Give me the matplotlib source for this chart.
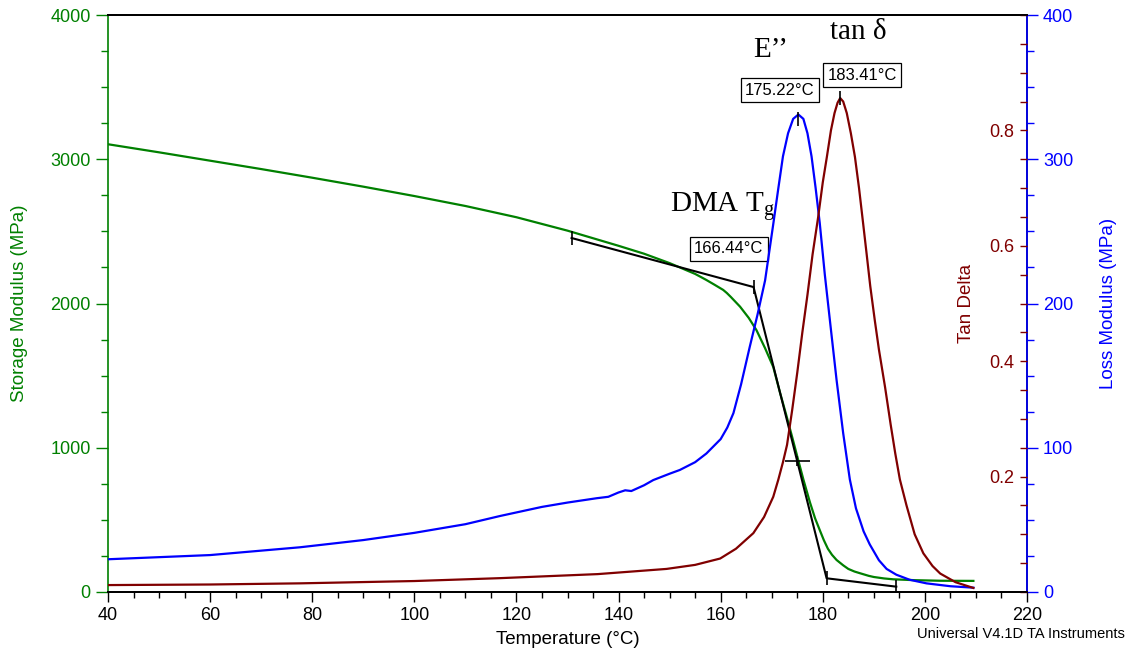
import matplotlib
matplotlib.use("Agg")
import matplotlib.pyplot as plt
from matplotlib.ticker import MultipleLocator, FixedLocator

plt.rcParams["font.family"] = ["Liberation Sans", "DejaVu Sans"]
plt.rcParams["mathtext.fontset"] = "custom"
plt.rcParams["mathtext.rm"] = "Liberation Serif"

GREEN = "#008000"
BLUE = "#0000ff"
RED = "#800000"

# storage modulus (MPa)
t_storage = [40, 50, 60, 70, 80, 90, 100, 110, 120, 130, 140, 145, 150, 155,
             156, 157.2, 158.8, 160.5, 161.2, 162, 163.8, 165.5, 167, 168.7,
             170.3, 171.6, 172.9, 174, 175, 176.2, 177.5, 178.5, 179.4, 180.2,
             181, 181.8, 182.7, 184, 185, 186.2, 187.3, 189, 190, 192, 193.8,
             198, 203, 209.5]
storage = [3104, 3048, 2990, 2932, 2872, 2810, 2745, 2676, 2598, 2505, 2400,
           2345, 2280, 2205, 2186, 2163, 2130, 2094, 2073, 2045, 1978, 1900,
           1816, 1690, 1560, 1385, 1220, 1075, 940, 780, 620, 510, 430, 360,
           300, 258, 222, 185, 160, 142, 130, 112, 104, 94, 88, 82, 78, 77]

# loss modulus (MPa)
t_loss = [40, 60, 77.6, 90, 100, 110, 116.8, 125, 130, 135.7, 138, 140, 141.3,
          142.5, 145, 146.8, 150, 152, 155, 157.2, 160, 161.3, 162.5, 164,
          165.7, 167.2, 168.7, 170.3, 171.3, 172.2, 173.2, 174.2, 175.22,
          176.2, 177, 177.8, 178.6, 179.4, 180.4, 181.5, 182.7, 184, 185.3,
          186.5, 188, 189.2, 191, 192.5, 194.4, 197, 200.3, 205, 209.5]
loss = [22.7, 25.6, 31, 36, 41, 47, 52.7, 59, 62, 65, 66, 69, 70.5, 70, 74,
        77.6, 82, 84.6, 90, 96, 106, 114, 124, 144, 170, 192, 216, 255, 280,
        302, 318, 328, 331, 328, 318, 302, 280, 256, 220, 185, 147, 110, 78,
        58, 42, 33, 22, 16, 12, 8.5, 6, 4, 3]

# tan delta
t_tan = [40, 60, 77.6, 100, 116.8, 135.9, 149.4, 155, 159.9, 163, 166.4,
         168.5, 170.3, 171.3, 172.2, 173, 174, 175, 176, 177, 178, 179.1, 180,
         180.8, 181.6, 182.3, 182.9, 183.41, 184, 184.7, 185.5, 186.3, 187.1,
         187.9, 188.6, 189.3, 190.2, 191, 192.2, 193.3, 194.2, 195.1, 196.4,
         198, 199.7, 201.5, 203, 206, 209.5]
tan_delta = [0.012, 0.013, 0.015, 0.019, 0.024, 0.031, 0.040, 0.047, 0.058,
             0.075, 0.102, 0.13, 0.165, 0.195, 0.225, 0.255, 0.315, 0.38,
             0.45, 0.515, 0.585, 0.65, 0.71, 0.754, 0.80, 0.83, 0.848, 0.856,
             0.85, 0.83, 0.795, 0.754, 0.70, 0.639, 0.585, 0.53, 0.47, 0.42,
             0.355, 0.29, 0.24, 0.195, 0.15, 0.10, 0.067, 0.045, 0.032, 0.017,
             0.007]

# onset construction on storage modulus
onset_t = [130.8, 166.44, 180.75, 194.4]
onset_e = [2454, 2114, 95, 37]
inflect_t, inflect_e = 175.0, 908

peak_loss_t, peak_loss = 175.22, 331
peak_tan_t, peak_tan = 183.41, 0.856

fig = plt.figure(figsize=(11.29, 6.51), dpi=100)
ax = fig.add_axes([108 / 1129, 1 - 592 / 651, 919 / 1129, 577 / 651])
ax2 = ax.twinx()
ax3 = ax.twinx()

ax.plot(t_storage, storage, color=GREEN, lw=1.6, zorder=3)
ax2.plot(t_loss, loss, color=BLUE, lw=1.6)
ax3.plot(t_tan, tan_delta, color=RED, lw=1.6)

# tangent lines and markers
ax.plot(onset_t, onset_e, color="black", lw=1.5, zorder=4)
ax.plot(onset_t, onset_e, ls="none", marker="|", ms=10, mew=1.2,
        color="black", zorder=4)
ax.plot([inflect_t], [inflect_e], marker="_", ms=18, mew=1.2, color="black", zorder=4)
ax.plot([inflect_t], [inflect_e], marker="|", ms=7, mew=1.2, color="black", zorder=4)
ax2.plot([peak_loss_t], [peak_loss - 3], marker="|", ms=10, mew=1.2, color="black")
ax3.plot([peak_tan_t], [peak_tan], marker="|", ms=10, mew=1.2, color="black")

box = dict(boxstyle="square,pad=0.25", fc="white", ec="black", lw=0.9)
ax.text(171.6, 3480, "175.22°C", fontsize=12, ha="center", va="center", bbox=box)
ax.text(187.7, 3584, "183.41°C", fontsize=12, ha="center", va="center", bbox=box)
ax.text(161.6, 2378, "166.44°C", fontsize=12, ha="center", va="center", bbox=box)

serif = ["Liberation Serif", "DejaVu Serif"]
ax.text(169.7, 3757, "E’’", fontsize=21, family=serif, ha="center", va="center")
ax.text(186.9, 3880, "tan δ", fontsize=21, family=serif, ha="center", va="center")
ax.text(150.0, 2669, r"DMA T$_{\mathrm{g}}$", fontsize=21, family=serif,
        ha="left", va="center")

# x axis
ax.set_xlim(40, 220)
ax.xaxis.set_major_locator(MultipleLocator(20))
ax.xaxis.set_minor_locator(MultipleLocator(5))
ax.tick_params(axis="x", which="major", direction="out", length=7, width=1,
               labelsize=13)
ax.tick_params(axis="x", which="minor", direction="out", length=4, width=1)
ax.set_xlabel("Temperature (°C)", fontsize=13.5, labelpad=5)

# storage axis
ax.set_ylim(0, 4000)
ax.yaxis.set_major_locator(MultipleLocator(1000))
ax.yaxis.set_minor_locator(MultipleLocator(250))
ax.tick_params(axis="y", which="major", direction="out", length=9, width=1,
               color=GREEN, labelcolor=GREEN, labelsize=13)
ax.tick_params(axis="y", which="minor", direction="out", length=5, width=1,
               color=GREEN)
ax.set_ylabel("Storage Modulus (MPa)", fontsize=13.5, color=GREEN)
ax.yaxis.set_label_coords(-0.087, 0.5)

# loss axis
ax2.set_ylim(0, 400)
ax2.yaxis.set_major_locator(MultipleLocator(100))
ax2.yaxis.set_minor_locator(MultipleLocator(25))
ax2.tick_params(axis="y", which="major", direction="out", length=8, width=1,
                color=BLUE, labelcolor=BLUE, labelsize=13)
ax2.tick_params(axis="y", which="minor", direction="out", length=5, width=1,
                color=BLUE)
ax2.set_ylabel("Loss Modulus (MPa)", fontsize=13.5, color=BLUE)
ax2.yaxis.set_label_coords(1.079, 0.5)

# tan delta axis, ticks inside the right spine
ax3.set_ylim(0, 1.0)
ax3.yaxis.set_major_locator(FixedLocator([0.2, 0.4, 0.6, 0.8]))
ax3.yaxis.set_minor_locator(MultipleLocator(0.05))
ax3.tick_params(axis="y", which="both", direction="in", length=5, width=1,
                color=RED, labelcolor=RED, labelsize=13, pad=-9)
for lab in ax3.get_yticklabels():
    lab.set_horizontalalignment("right")
ax3.set_ylabel("Tan Delta", fontsize=13.5, color=RED)
ax3.yaxis.set_label_coords(0.9245, 0.5)

for a in (ax, ax2, ax3):
    for s in a.spines.values():
        s.set_linewidth(1.2)
ax.spines["left"].set_color(GREEN)
ax2.spines["right"].set_color(BLUE)
ax3.spines["right"].set_visible(False)
ax2.spines["left"].set_visible(False)
ax3.spines["left"].set_visible(False)

fig.text(1125 / 1129, 1 - 634 / 651, "Universal V4.1D TA Instruments",
         fontsize=10.5, ha="right", va="center")

fig.savefig("out.png", dpi=100)
